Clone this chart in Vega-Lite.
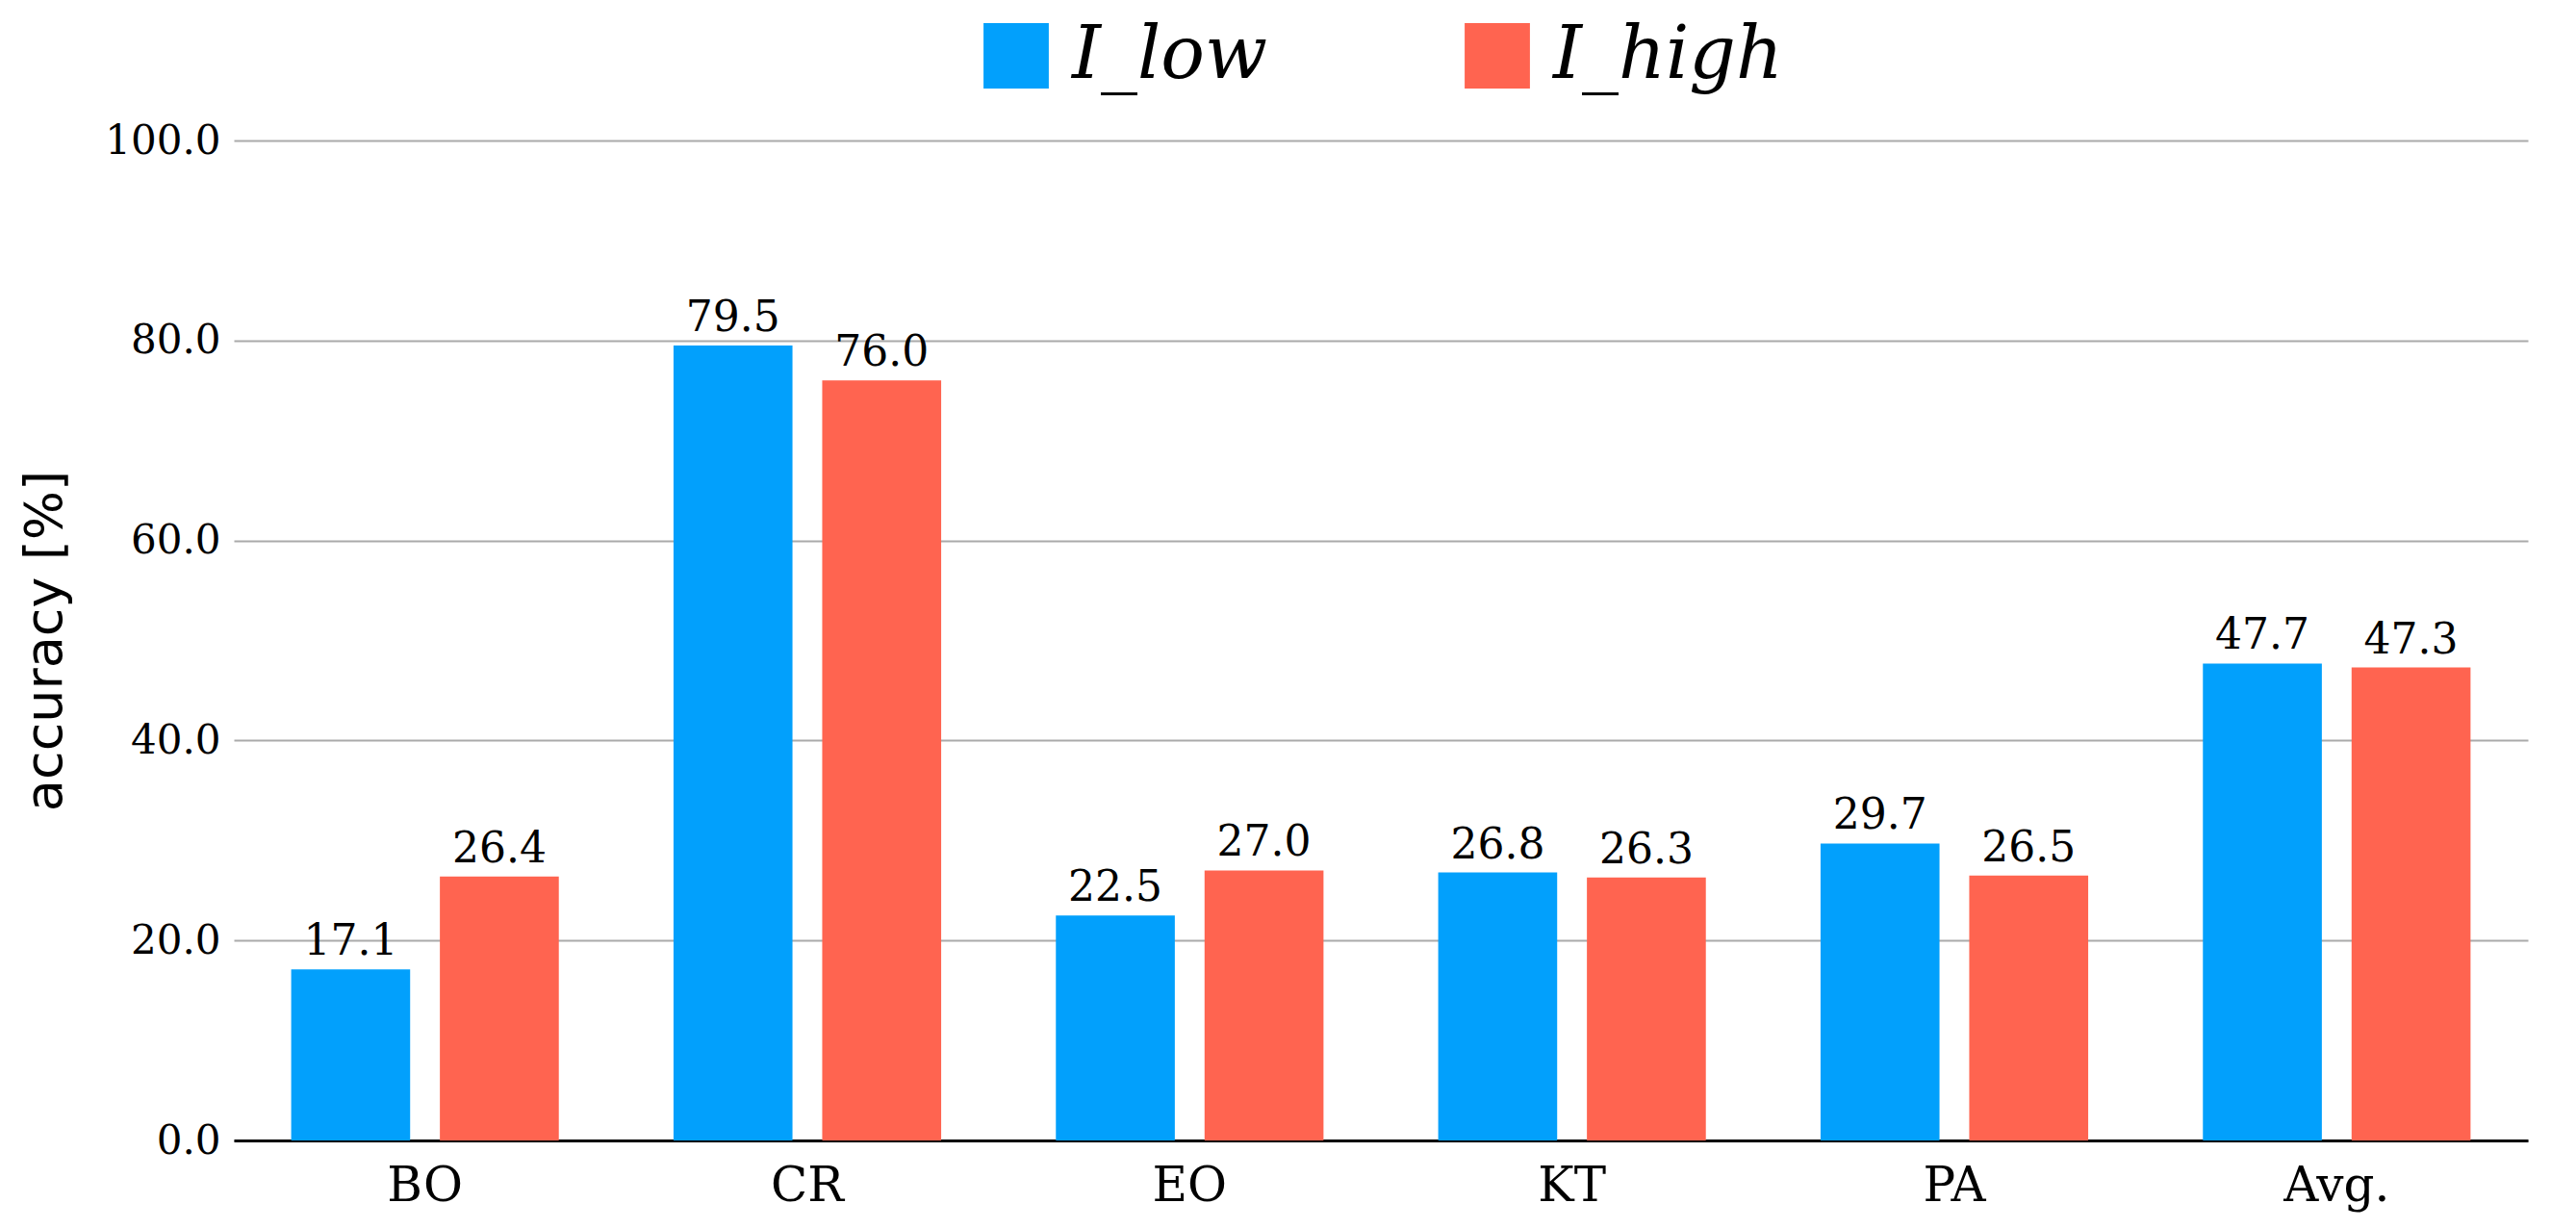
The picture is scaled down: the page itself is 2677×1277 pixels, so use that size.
{
  "$schema": "https://vega.github.io/schema/vega-lite/v6.json",
  "width": 2677,
  "height": 1277,
  "autosize": {"type": "fit", "contains": "padding"},
  "padding": {"left": 20, "right": 50, "top": 20, "bottom": 20},
  "data": {
    "values": [
      {"cat": "BO", "series": "I_low", "acc": 17.1},
      {"cat": "BO", "series": "I_high", "acc": 26.4},
      {"cat": "CR", "series": "I_low", "acc": 79.5},
      {"cat": "CR", "series": "I_high", "acc": 76.0},
      {"cat": "EO", "series": "I_low", "acc": 22.5},
      {"cat": "EO", "series": "I_high", "acc": 27.0},
      {"cat": "KT", "series": "I_low", "acc": 26.8},
      {"cat": "KT", "series": "I_high", "acc": 26.3},
      {"cat": "PA", "series": "I_low", "acc": 29.7},
      {"cat": "PA", "series": "I_high", "acc": 26.5},
      {"cat": "Avg.", "series": "I_low", "acc": 47.7},
      {"cat": "Avg.", "series": "I_high", "acc": 47.3}
    ]
  },
  "encoding": {
    "x": {
      "field": "cat", "type": "nominal", "sort": null, "title": null,
      "scale": {"paddingInner": 0.3, "paddingOuter": 0.15},
      "axis": {"labelAngle": 0, "labelFontSize": 50, "labelPadding": 22, "ticks": false, "domainColor": "#000", "domainWidth": 3}
    },
    "xOffset": {"field": "series", "type": "nominal", "sort": ["I_low", "I_high"], "scale": {"paddingInner": 0.2}},
    "y": {
      "field": "acc", "type": "quantitative", "title": "accuracy [%]",
      "scale": {"domain": [0, 100]},
      "axis": {"values": [0, 20, 40, 60, 80, 100], "format": ".1f", "labelFontSize": 42, "titleFont": "DejaVu Sans", "titleFontSize": 54, "titleFontWeight": "normal", "titlePadding": 34, "ticks": false, "domain": false, "labelPadding": 14, "gridColor": "#aaaaaa", "gridWidth": 2}
    }
  },
  "layer": [
    {
      "mark": {"type": "bar"},
      "encoding": {
        "color": {
          "field": "series", "type": "nominal", "sort": ["I_low", "I_high"], "title": null,
          "scale": {"domain": ["I_low", "I_high"], "range": ["#02A0FC", "#FF6450"]},
          "legend": {"orient": "top", "direction": "horizontal", "symbolType": "square", "symbolSize": 4600, "labelFontSize": 76, "labelFontStyle": "italic", "labelLimit": 600, "columnPadding": 200, "labelOffset": 20, "offset": 50}
        }
      }
    },
    {
      "mark": {"type": "text", "baseline": "bottom", "dy": -6, "fontSize": 44},
      "encoding": {"text": {"field": "acc", "type": "quantitative", "format": ".1f"}}
    }
  ],
  "config": {
    "font": "DejaVu Serif",
    "view": {"stroke": null},
    "axis": {"labelColor": "#000", "titleColor": "#000"},
    "legend": {"labelColor": "#000", "layout": {"top": {"anchor": "middle"}}}
  }
}
